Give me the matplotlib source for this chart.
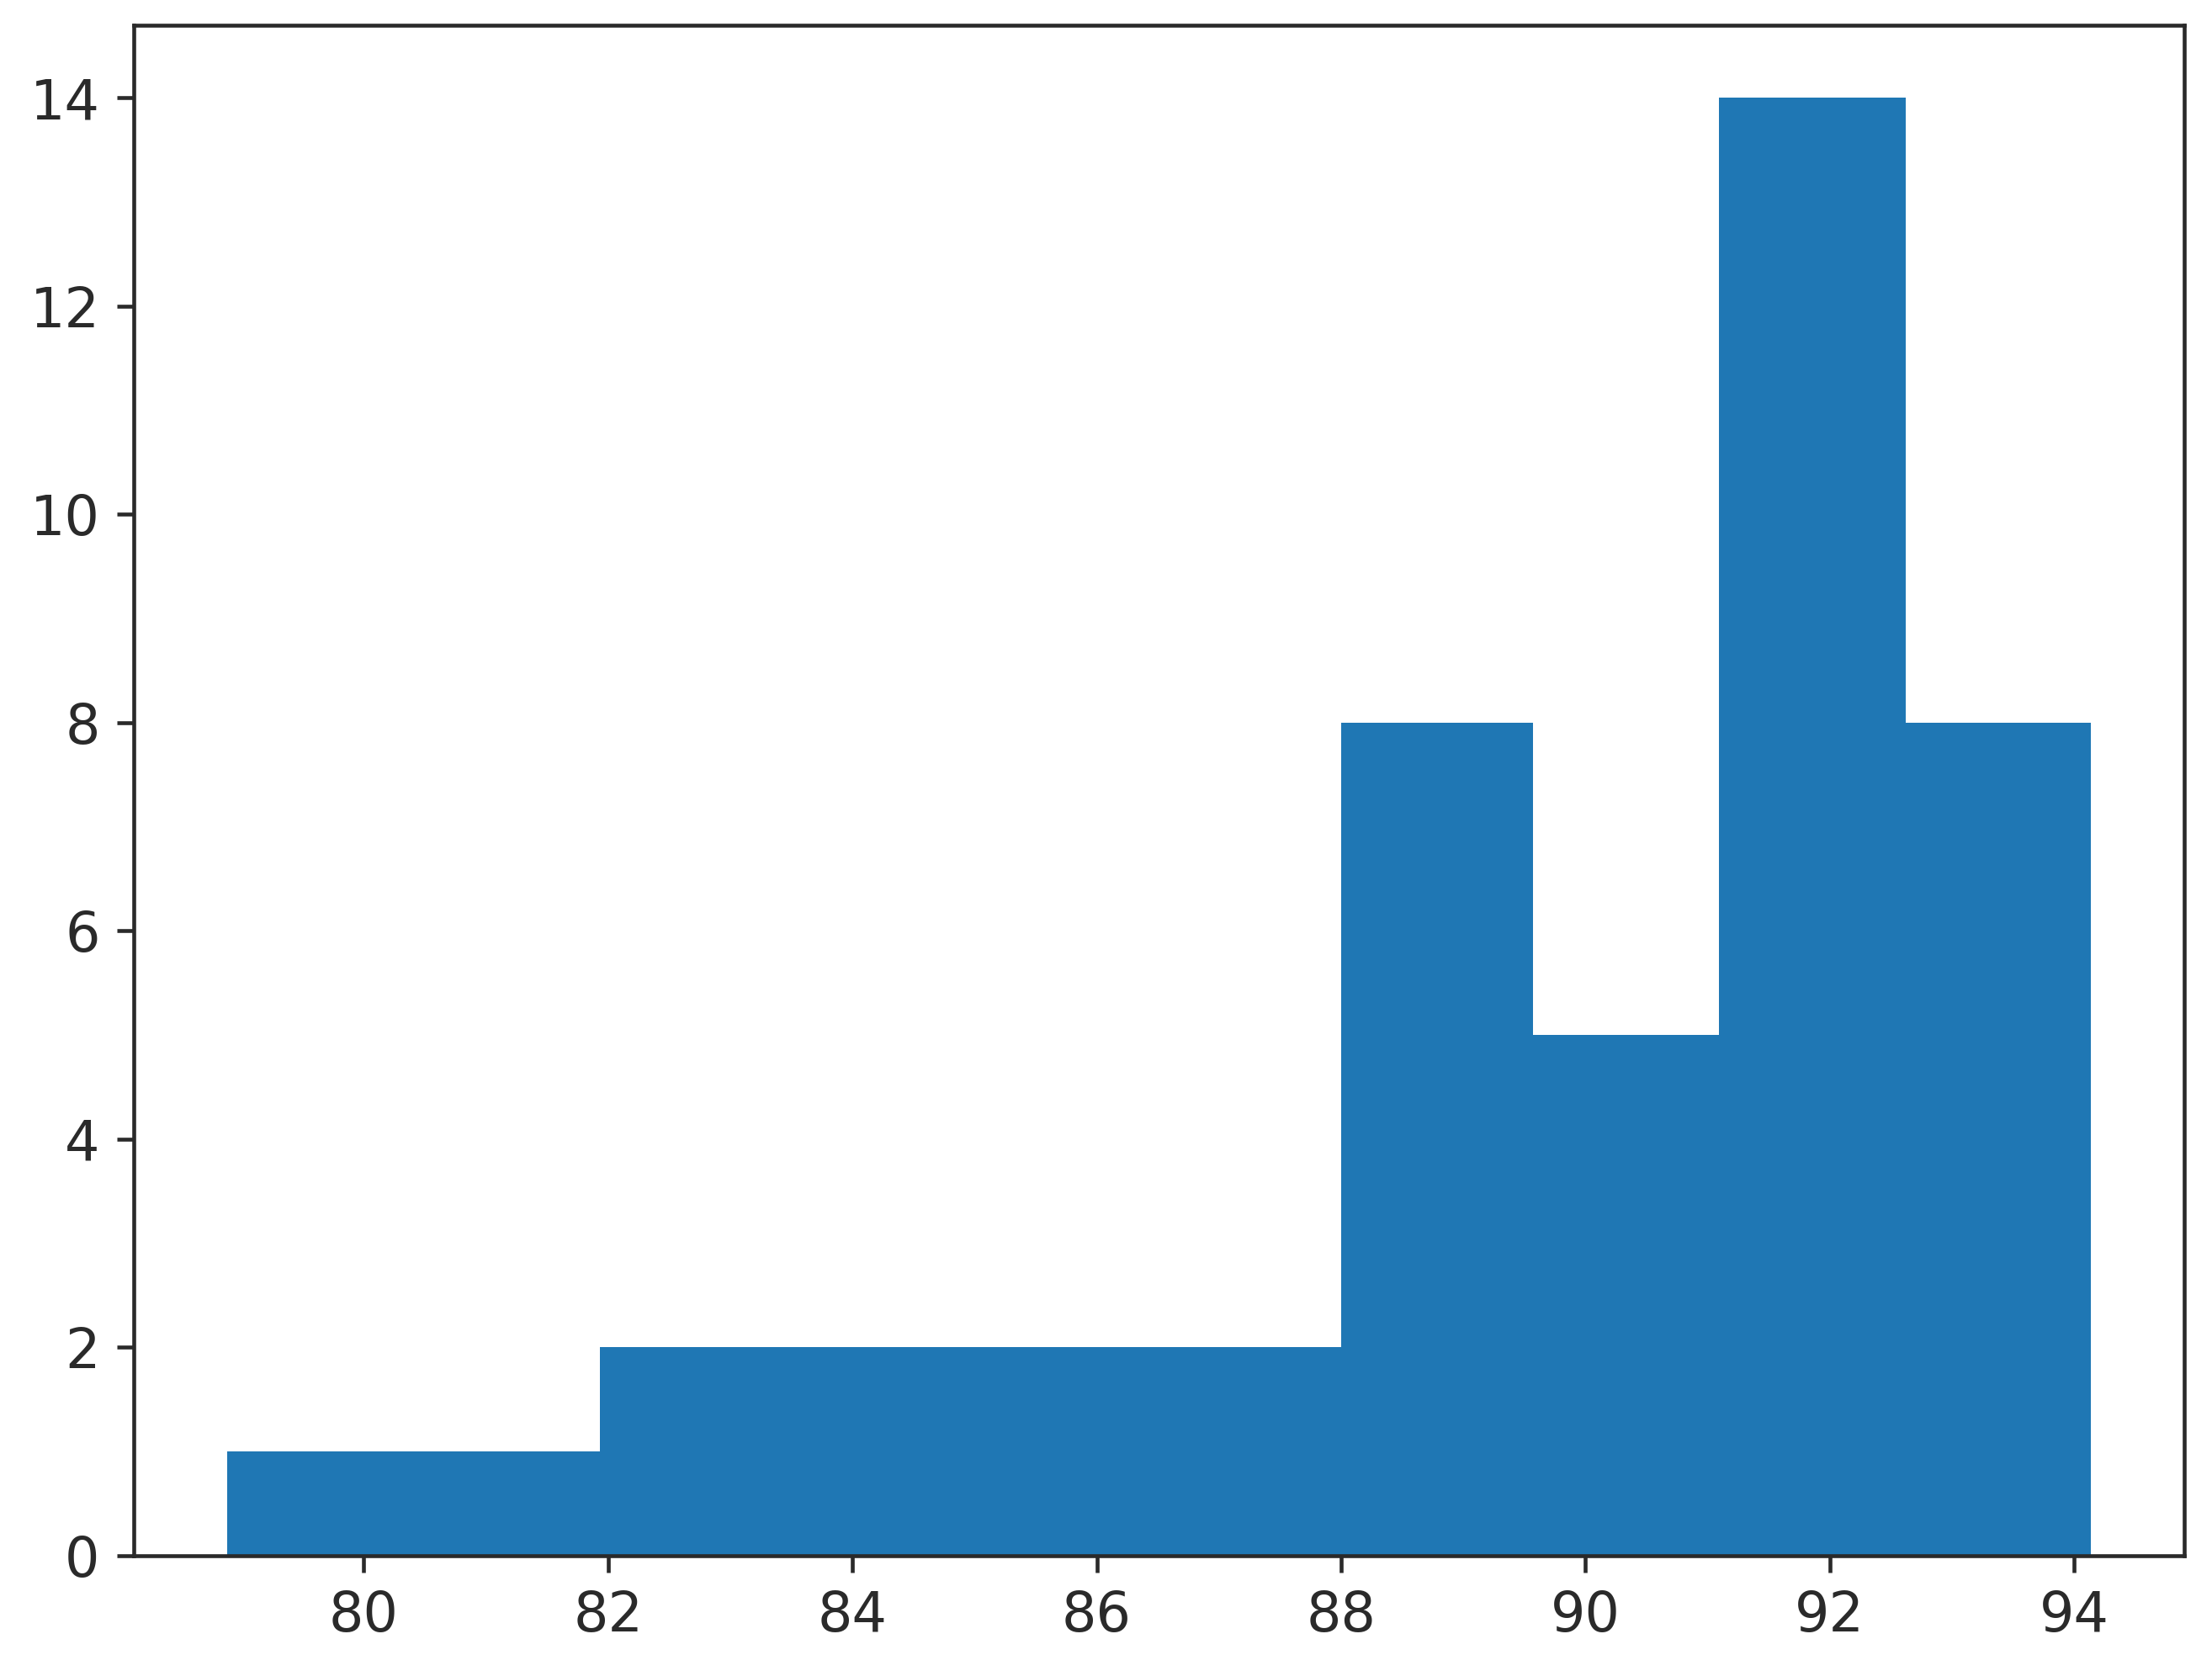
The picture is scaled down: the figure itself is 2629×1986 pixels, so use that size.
import matplotlib
matplotlib.use("Agg")
import matplotlib.pyplot as plt

bin_edges = [78.88, 80.41, 81.93, 83.46, 84.99, 86.51, 88.00, 89.57, 91.09, 92.62, 94.14]
counts = [1, 1, 2, 2, 2, 2, 8, 5, 14, 8]

s = 4.15
fg = "#2a2a2a"
plt.rcParams.update({
    "font.size": 47,
    "axes.linewidth": 0.8 * s,
    "axes.edgecolor": fg,
    "xtick.color": fg,
    "ytick.color": fg,
    "xtick.labelcolor": fg,
    "ytick.labelcolor": fg,
    "xtick.major.size": 3.5 * s,
    "ytick.major.size": 3.5 * s,
    "xtick.major.width": 0.8 * s,
    "ytick.major.width": 0.8 * s,
    "xtick.major.pad": 3.5 * s,
    "ytick.major.pad": 3.5 * s,
})

fig = plt.figure(figsize=(26.29, 19.86), dpi=100)
ax = fig.add_axes([0.0605, 0.069, 0.927, 0.916])
ax.hist(bin_edges[:-1], bins=bin_edges, weights=counts, color="#1f77b4")
ax.set_xticks([80, 82, 84, 86, 88, 90, 92, 94])
ax.set_yticks([0, 2, 4, 6, 8, 10, 12, 14])
fig.savefig("out.png", dpi=100)
